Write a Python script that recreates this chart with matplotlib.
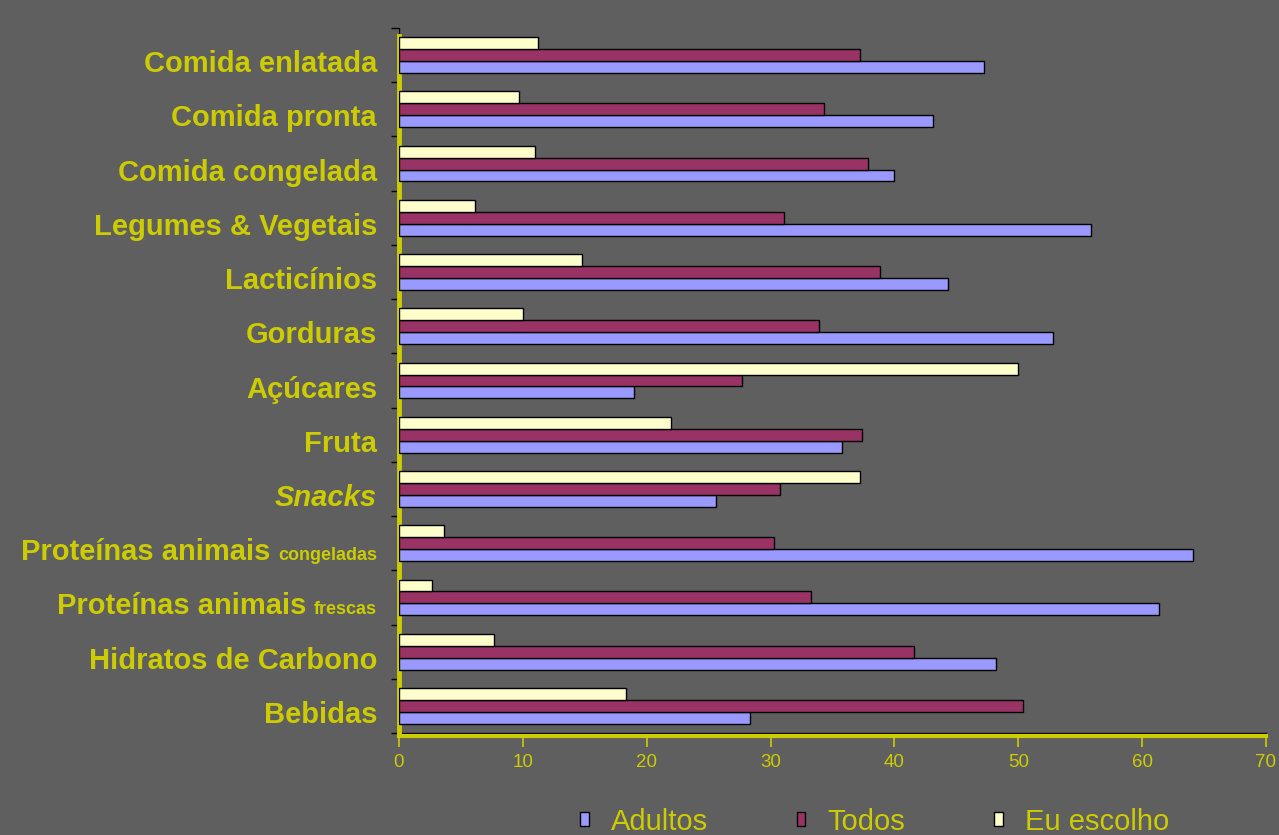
import numpy as np
import matplotlib
matplotlib.use("Agg")
import matplotlib.pyplot as plt
from matplotlib.patches import Patch

# --------------------------------------------------------------------------- #
# dados (de cima para baixo)
# --------------------------------------------------------------------------- #
categorias = [
    "Comida enlatada", "Comida pronta", "Comida congelada", "Legumes & Vegetais",
    "Lacticínios", "Gorduras", "Açúcares", "Fruta", "Snacks",
    "Proteínas animais", "Proteínas animais", "Hidratos de Carbono", "Bebidas",
]
sufixos = ["", "", "", "", "", "", "", "", "", "congeladas", "frescas", "", ""]
italico = [False] * 8 + [True] + [False] * 4

adultos = [47.2, 43.1, 40.0, 55.9, 44.3, 52.8, 19.0, 35.8, 25.6, 64.1, 61.4, 48.2, 28.3]
todos = [37.2, 34.3, 37.9, 31.1, 38.8, 33.9, 27.7, 37.4, 30.8, 30.3, 33.3, 41.6, 50.4]
eu_escolho = [11.2, 9.7, 11.0, 6.1, 14.8, 10.0, 50.0, 22.0, 37.2, 3.6, 2.7, 7.7, 18.3]

series = ["Adultos", "Todos", "Eu escolho"]
xticks = [0, 10, 20, 30, 40, 50, 60, 70]

# --------------------------------------------------------------------------- #
# estilo
# --------------------------------------------------------------------------- #
BG = "#5f5f5f"
AMARELO = "#cccc00"
CORES = {"Adultos": "#9999ff", "Todos": "#993366", "Eu escolho": "#ffffcc"}
plt.rcParams["font.family"] = ["Liberation Sans", "DejaVu Sans"]

fig = plt.figure(figsize=(12.79, 8.35), dpi=100, facecolor=BG)
ax = fig.add_axes([399 / 1279, 1 - 733 / 835, 867 / 1279, 705 / 835])
ax.set_facecolor(BG)

n = len(categorias)
y = np.arange(n)[::-1].astype(float)
h = 0.22

ax.barh(y - h, adultos, height=h, color=CORES["Adultos"], edgecolor="black", lw=1, zorder=3)
ax.barh(y, todos, height=h, color=CORES["Todos"], edgecolor="black", lw=1, zorder=3)
ax.barh(y + h, eu_escolho, height=h, color=CORES["Eu escolho"], edgecolor="black", lw=1, zorder=3)

ax.set_xlim(0, 70)
ax.set_ylim(-0.5, n - 0.5)

# eixos
for s in ("top", "right"):
    ax.spines[s].set_visible(False)
ax.spines["left"].set_color(AMARELO)
ax.spines["left"].set_linewidth(3.5)
ax.spines["left"].set_bounds(-0.5, n - 0.5 - 0.15)
ax.axvline(0, ymin=0, ymax=1, color="black", lw=1, zorder=1)
ax.spines["bottom"].set_color(AMARELO)
ax.spines["bottom"].set_linewidth(3)
ax.spines["bottom"].set_position(("outward", 2))
ax.axhline(-0.5, color="black", lw=1, zorder=2, clip_on=False)

ax.set_xticks(xticks)
ax.set_xticklabels([str(t) for t in xticks])
ax.tick_params(axis="x", colors=AMARELO, length=8, width=1.2, labelsize=13.5, pad=5)
ax.set_yticks(np.arange(-0.5, n, 1.0))
ax.set_yticklabels([])
ax.tick_params(axis="y", colors="black", length=6, width=1, direction="out")

# rótulos das categorias (com sufixo pequeno)
fig.canvas.draw()
rend = fig.canvas.get_renderer()
for yi, nome, suf, it in zip(y, categorias, sufixos, italico):
    dx = -22
    if suf:
        t = ax.annotate(suf, xy=(0, yi), xycoords=("axes fraction", "data"),
                        xytext=(dx, -17), textcoords="offset pixels",
                        ha="right", va="baseline", color=AMARELO,
                        fontsize=13, fontweight="bold")
        w = t.get_window_extent(renderer=rend).width
        dx -= w + 8
    ax.annotate(nome, xy=(0, yi), xycoords=("axes fraction", "data"),
                xytext=(dx, -17), textcoords="offset pixels",
                ha="right", va="baseline", color=AMARELO,
                fontsize=21, fontweight="bold",
                fontstyle="italic" if it else "normal")

# legenda
handles = [Patch(fc=CORES[s], ec="black", lw=1, label=s) for s in series]
leg = fig.legend(handles=handles, loc="center left", bbox_to_anchor=(580 / 1279, 0.016),
                 ncol=3, frameon=False, fontsize=21, handlelength=0.3, handleheight=0.38,
                 handletextpad=0.75, columnspacing=3.05, borderaxespad=0, borderpad=0)
for txt in leg.get_texts():
    txt.set_color(AMARELO)

fig.savefig("out.png", dpi=100, facecolor=BG)
